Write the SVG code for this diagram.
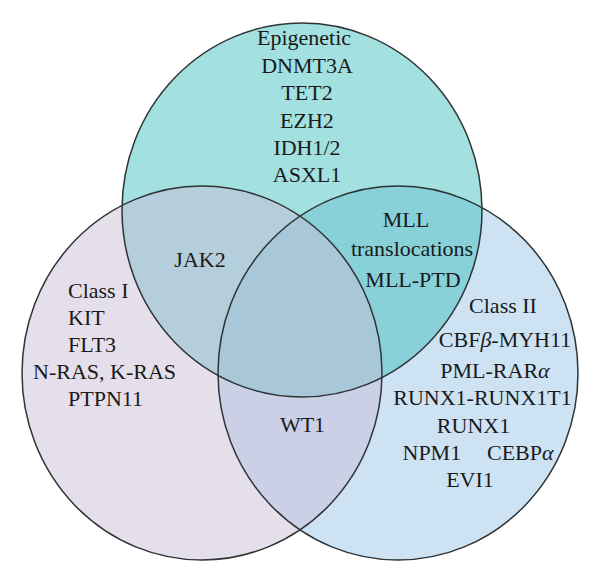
<svg xmlns="http://www.w3.org/2000/svg" xmlns:xlink="http://www.w3.org/1999/xlink" width="600" height="581" viewBox="0 0 600 581">
<style>
  text { font-family: 'Liberation Serif', 'DejaVu Serif', serif; font-size: 22px; fill: #1a1a1a; }
  .mid { text-anchor: middle; }
  .gr { font-style: italic; }
  .edge { fill: none; stroke: #2e3436; stroke-width: 1.5; }
</style>
<defs>
  <ellipse id="eTop" cx="302" cy="210" rx="180" ry="187"/>
  <ellipse id="eLeft" cx="202" cy="373" rx="180" ry="187"/>
  <ellipse id="eRight" cx="398" cy="373" rx="180" ry="187"/>
  <clipPath id="cTop"><use href="#eTop"/></clipPath>
  <clipPath id="cLeft"><use href="#eLeft"/></clipPath>
  <clipPath id="cRight"><use href="#eRight"/></clipPath>
</defs>
<rect width="600" height="581" fill="#ffffff"/>
<g id="fills">
  <use href="#eLeft" fill="#e5dfeb"/>
  <use href="#eRight" fill="#cde3f4"/>
  <use href="#eTop" fill="#a3e0e0"/>
  <g clip-path="url(#cTop)"><use href="#eLeft" fill="#b5cedb"/></g>
  <g clip-path="url(#cTop)"><use href="#eRight" fill="#88d1d9"/></g>
  <g clip-path="url(#cLeft)"><use href="#eRight" fill="#cbd0e6"/></g>
  <g clip-path="url(#cTop)"><g clip-path="url(#cLeft)"><use href="#eRight" fill="#a8c7d8"/></g></g>
</g>
<g id="connectors"></g>
<g id="set-epigenetic" font-family="Liberation Serif, serif">
  <use href="#eTop" class="edge"/>
  <text class="mid" x="304" y="45">Epigenetic</text>
  <text class="mid" x="307" y="72.5">DNMT3A</text>
  <text class="mid" x="307" y="100">TET2</text>
  <text class="mid" x="307" y="127.5">EZH2</text>
  <text class="mid" x="307" y="154.5">IDH1/2</text>
  <text class="mid" x="307" y="181.5">ASXL1</text>
</g>
<g id="set-class1">
  <use href="#eLeft" class="edge"/>
  <text x="68" y="297.5">Class I</text>
  <text x="68" y="325">KIT</text>
  <text x="68" y="352">FLT3</text>
  <text x="33" y="379">N-RAS, K-RAS</text>
  <text x="68" y="406">PTPN11</text>
</g>
<g id="set-class2">
  <use href="#eRight" class="edge"/>
  <text class="mid" x="503" y="312.5">Class II</text>
  <text class="mid" x="505" y="347">CBF<tspan class="gr">β</tspan>-MYH11</text>
  <text class="mid" x="495" y="378">PML-RAR<tspan class="gr">α</tspan></text>
  <text class="mid" x="482.5" y="405">RUNX1-RUNX1T1</text>
  <text class="mid" x="473.5" y="432.5">RUNX1</text>
  <text x="402.5" y="460">NPM1</text>
  <text x="487" y="460">CEBP<tspan class="gr">α</tspan></text>
  <text class="mid" x="470" y="487">EVI1</text>
</g>
<g id="overlap-epigenetic-class1">
  <text class="mid" x="200" y="266.5">JAK2</text>
</g>
<g id="overlap-epigenetic-class2">
  <text class="mid" x="406" y="226.5">MLL</text>
  <text class="mid" x="412" y="255.5">translocations</text>
  <text class="mid" x="413" y="286.5">MLL-PTD</text>
</g>
<g id="overlap-class1-class2">
  <text class="mid" x="302.5" y="432">WT1</text>
</g>
</svg>
